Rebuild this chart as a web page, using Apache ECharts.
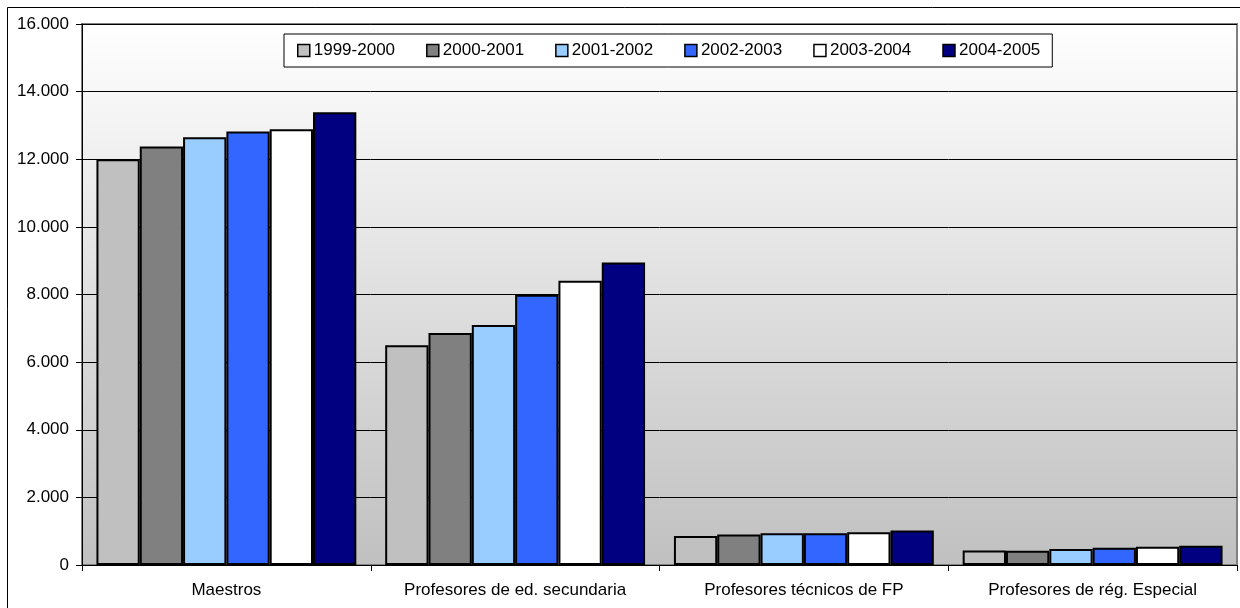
<!DOCTYPE html>
<html>
<head>
<meta charset="utf-8">
<script src="https://cdn.jsdelivr.net/npm/echarts@6/dist/echarts.min.js"></script>
<style>html,body{margin:0;padding:0;background:#fff;}#c{width:1240px;height:608px;}</style>
</head>
<body>
<div id="c"></div>
<script>
const categories = ['Maestros', 'Profesores de ed. secundaria', 'Profesores técnicos de FP', 'Profesores de rég. Especial'];
const seriesNames = ['1999-2000', '2000-2001', '2001-2002', '2002-2003', '2003-2004', '2004-2005'];
const y1999 = [12000, 6500, 860, 430];
const y2000 = [12380, 6860, 900, 420];
const y2001 = [12650, 7100, 940, 470];
const y2002 = [12820, 7990, 940, 510];
const y2003 = [12890, 8410, 970, 540];
const y2004 = [13390, 8950, 1020, 570];
const yTicks = [0, 2000, 4000, 6000, 8000, 10000, 12000, 14000, 16000];
const colors = ['#C0C0C0', '#808080', '#99CCFF', '#3366FF', '#FFFFFF', '#000080'];
const allData = [y1999, y2000, y2001, y2002, y2003, y2004];

function fmt(v) {
  return String(v).replace(/\B(?=(\d{3})+(?!\d))/g, '.');
}

const font = 'Liberation Sans, Arial, sans-serif';
const chart = echarts.init(document.getElementById('c'), null, {renderer: 'canvas'});
chart.setOption({
  animation: false,
  backgroundColor: '#fff',
  textStyle: {fontFamily: font},
  graphic: [{
    type: 'rect', shape: {x: 7.5, y: 7.5, width: 1300, height: 700},
    style: {fill: 'none', stroke: '#000', lineWidth: 1}, silent: true, z: 100
  }],
  legend: {
    left: 284, top: 34,
    padding: [8, 12, 8, 13],
    itemWidth: 12, itemHeight: 12, itemGap: 31,
    borderColor: '#000', borderWidth: 1, backgroundColor: '#fff',
    icon: 'rect',
    itemStyle: {borderColor: '#000', borderWidth: 1.5},
    textStyle: {fontSize: 17, color: '#000', fontFamily: font, padding: [0, 0, 0, -1]},
    data: seriesNames
  },
  grid: {
    left: 82, right: 3, top: 24, bottom: 43,
    show: true,
    borderColor: '#808080', borderWidth: 2,
    backgroundColor: new echarts.graphic.LinearGradient(0, 0, 0, 1, [
      {offset: 0, color: '#ffffff'},
      {offset: 1, color: '#c0c0c0'}
    ])
  },
  xAxis: {
    type: 'category',
    data: categories,
    axisLine: {show: true, lineStyle: {color: '#000', width: 1}},
    axisTick: {show: true, length: 6, lineStyle: {color: '#000'}},
    axisLabel: {fontSize: 17, color: '#000', margin: 17, fontFamily: font},
    splitLine: {show: false}
  },
  yAxis: {
    type: 'value',
    min: yTicks[0], max: yTicks[yTicks.length - 1], interval: 2000,
    axisLine: {show: true, lineStyle: {color: '#000', width: 1}},
    axisTick: {show: true, length: 6, lineStyle: {color: '#000'}},
    axisLabel: {fontSize: 17, color: '#000', margin: 13, fontFamily: font, formatter: v => fmt(v)},
    splitLine: {show: true, lineStyle: {color: '#000', width: 1}}
  },
  series: seriesNames.map((n, i) => ({
    name: n,
    type: 'bar',
    data: allData[i],
    barGap: '0%',
    barCategoryGap: '10%',
    itemStyle: {color: colors[i], borderColor: '#000', borderWidth: 2}
  }))
});
</script>
</body>
</html>
